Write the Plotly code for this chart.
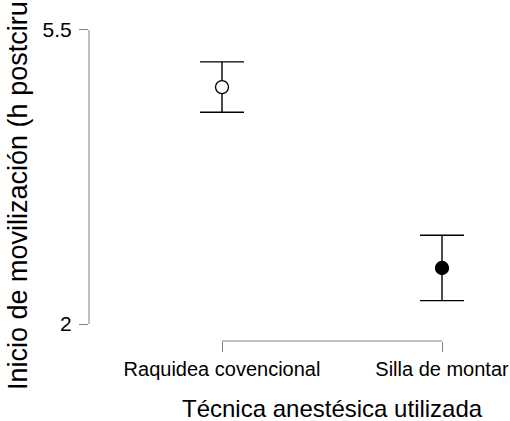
import plotly.graph_objects as go

categories = ["Raquidea covencional", "Silla de montar"]
means = [4.82, 2.667]
upper = [5.12, 3.056]
lower = [4.52, 2.278]
marker_fill = ["white", "black"]
y_ticks = [2, 5.5]
y_tick_text = ["2", "5.5"]
x_title = "Técnica anestésica utilizada"
y_title = "Inicio de movilización (h postcirugía)"

err_plus = [u - m for u, m in zip(upper, means)]
err_minus = [m - l for m, l in zip(means, lower)]

FONT = "Liberation Sans, Arial, sans-serif"
AXIS_COLOR = "#808080"

fig = go.Figure()
fig.add_trace(go.Scatter(
    x=categories, y=means, mode="markers",
    marker=dict(size=13, color=marker_fill, line=dict(color="black", width=1.3)),
    error_y=dict(type="data", symmetric=False, array=err_plus, arrayminus=err_minus,
                 color="black", thickness=1.4, width=22),
    showlegend=False,
))

# y axis line (only between the extreme ticks)
fig.add_shape(type="line", xref="paper", x0=0, x1=0, yref="y", y0=y_ticks[0], y1=y_ticks[-1],
              line=dict(color=AXIS_COLOR, width=1))
# x axis line (only between the categories)
fig.add_shape(type="line", xref="x", x0=categories[0], x1=categories[-1], yref="paper", y0=0, y1=0,
              line=dict(color=AXIS_COLOR, width=1))

fig.add_annotation(text=x_title, xref="x", x=0.5, yref="paper", y=0, yshift=-67,
                   xanchor="center", yanchor="middle", showarrow=False,
                   font=dict(family=FONT, size=24, color="black"))
fig.add_annotation(text=y_title, xref="paper", x=0, xshift=-71, yref="paper", y=0.5, yshift=4,
                   xanchor="center", yanchor="middle", textangle=-90, showarrow=False,
                   font=dict(family=FONT, size=27, color="black"))

fig.update_xaxes(type="category", range=[-0.6045, 1.2636], showline=False, showgrid=False,
                 zeroline=False, ticks="outside", ticklen=10, tickcolor=AXIS_COLOR, tickwidth=1,
                 tickfont=dict(family=FONT, size=20, color="black"), ticklabelstandoff=0,
                 automargin=False)
fig.update_yaxes(range=[1.798, 5.702], showline=False, showgrid=False, zeroline=False,
                 tickvals=y_ticks, ticktext=y_tick_text, ticks="outside", ticklen=9,
                 tickcolor=AXIS_COLOR, tickwidth=1,
                 tickfont=dict(family=FONT, size=21, color="black"), ticklabelstandoff=3,
                 automargin=False)

fig.update_layout(width=510, height=421, margin=dict(l=89, r=10, t=13, b=80),
                  paper_bgcolor="white", plot_bgcolor="white",
                  font=dict(family=FONT, color="black"))

fig.write_html("out.html")
